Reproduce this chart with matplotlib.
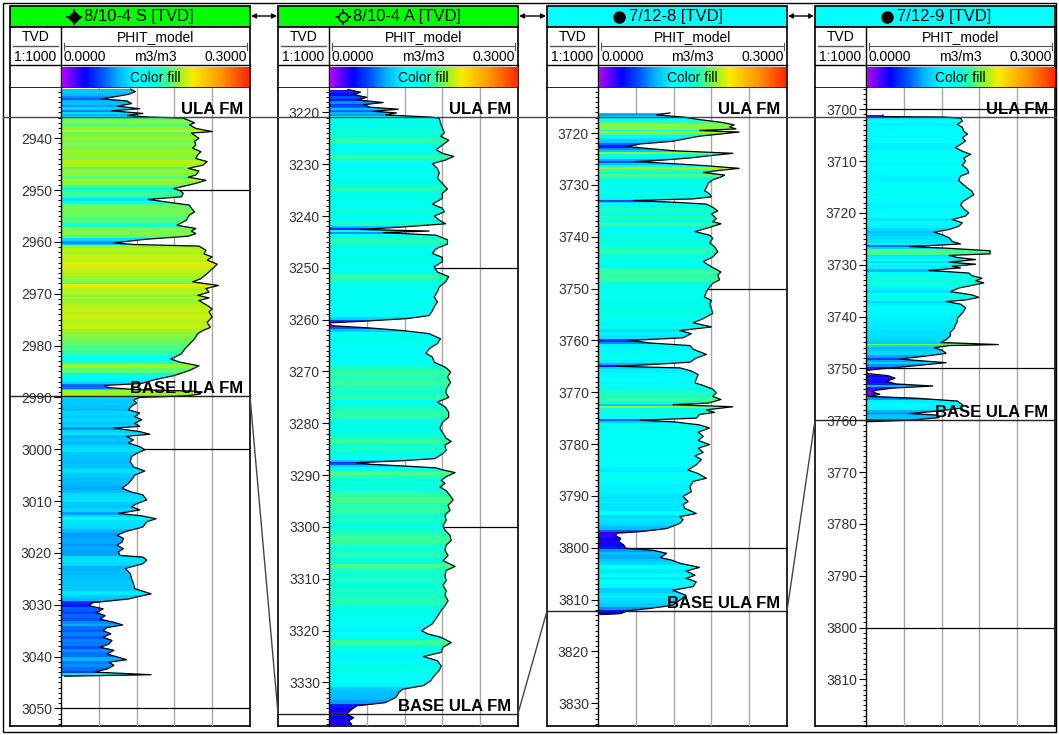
"""Well correlation panel: PHIT_model colour-filled logs flattened on top ULA FM."""

import numpy as np
import matplotlib

matplotlib.use("Agg")
import matplotlib.pyplot as plt  # noqa: E402
from matplotlib.colors import FuncNorm, LinearSegmentedColormap  # noqa: E402
from matplotlib.font_manager import FontProperties  # noqa: E402
from matplotlib.lines import Line2D  # noqa: E402
from matplotlib.patches import ConnectionPatch, FancyArrowPatch, Polygon, Rectangle  # noqa: E402
from matplotlib.textpath import TextPath  # noqa: E402
from matplotlib.ticker import MultipleLocator  # noqa: E402
from matplotlib.transforms import blended_transform_factory  # noqa: E402

plt.rcParams["font.family"] = ["Liberation Sans", "DejaVu Sans"]

# ---------------------------------------------------------------- data
well_names = ["8/10-4 S [TVD]", "8/10-4 A [TVD]", "7/12-8 [TVD]", "7/12-9 [TVD]"]
header_colors = ["#00ff00", "#00ff00", "#00ffff", "#00ffff"]
well_symbols = ["oil", "open", "dot", "dot"]
ula_top = [2935.9, 3220.9, 3716.9, 3701.5]
base_ula = [2989.8, 3336.0, 3812.2, 3760.0]

depth_1 = [
    2930.5, 2931.0, 2931.5, 2932.0, 2932.4, 2932.8, 2933.3, 2933.8, 2934.3, 2934.7,
    2935.2, 2935.6, 2935.9, 2936.1, 2937.0, 2937.4, 2938.1, 2938.7, 2939.0, 2940.0,
    2940.6, 2941.3, 2941.9, 2942.6, 2943.2, 2943.9, 2944.5, 2945.2, 2945.8, 2946.3,
    2947.1, 2947.5, 2948.1, 2948.7, 2949.2, 2949.7, 2950.1, 2950.6, 2951.3, 2951.8,
    2952.3, 2952.9, 2953.5, 2954.2, 2954.8, 2955.8, 2956.8, 2957.4, 2957.9, 2958.4,
    2958.9, 2959.5, 2960.2, 2960.5, 2960.8, 2961.6, 2962.3, 2962.9, 2963.5, 2964.3,
    2965.2, 2966.1, 2967.1, 2967.7, 2968.4, 2969.0, 2969.7, 2970.3, 2970.8, 2971.3,
    2972.1, 2972.9, 2973.5, 2974.5, 2975.5, 2976.5, 2977.1, 2977.7, 2978.7, 2979.7,
    2980.6, 2981.6, 2982.6, 2983.2, 2983.9, 2984.8, 2985.8, 2986.6, 2987.3, 2987.7,
    2988.1, 2988.5, 2988.8, 2989.3, 2989.7, 2990.0, 2990.5, 2991.1, 2991.7, 2992.4,
    2993.0, 2993.7, 2994.3, 2995.0, 2995.6, 2995.9, 2996.6, 2997.1, 2997.5, 2998.2,
    2998.8, 2999.5, 3000.1, 3000.8, 3001.4, 3002.4, 3003.4, 3004.2, 3005.0, 3005.9,
    3006.6, 3007.5, 3008.2, 3008.8, 3009.8, 3010.5, 3011.1, 3011.7, 3012.4, 3012.8,
    3013.4, 3014.0, 3015.0, 3015.9, 3016.6, 3017.2, 3017.9, 3018.5, 3019.2, 3019.8,
    3020.5, 3020.8, 3021.4, 3022.1, 3023.0, 3024.0, 3025.0, 3025.9, 3026.9, 3027.9,
    3028.5, 3028.9, 3029.6, 3030.2, 3030.8, 3031.5, 3032.1, 3032.8, 3033.4, 3033.9,
    3034.4, 3035.0, 3035.6, 3036.3, 3036.9, 3037.6, 3038.2, 3038.8, 3039.5, 3040.6,
    3041.1, 3041.7, 3042.4, 3043.0, 3043.5, 3043.8,
]
phit_1 = [
    0.110, 0.118, 0.108, 0.085, 0.065, 0.105, 0.112, 0.090, 0.125, 0.080,
    0.130, 0.105, 0.140, 0.194, 0.212, 0.204, 0.214, 0.240, 0.207, 0.219,
    0.212, 0.214, 0.209, 0.222, 0.217, 0.214, 0.232, 0.225, 0.202, 0.219,
    0.214, 0.202, 0.230, 0.214, 0.197, 0.179, 0.189, 0.194, 0.191, 0.138,
    0.168, 0.204, 0.207, 0.212, 0.204, 0.199, 0.184, 0.214, 0.207, 0.214,
    0.202, 0.133, 0.084, 0.117, 0.219, 0.230, 0.227, 0.240, 0.232, 0.248,
    0.240, 0.232, 0.222, 0.209, 0.250, 0.230, 0.235, 0.217, 0.235, 0.219,
    0.230, 0.240, 0.235, 0.240, 0.232, 0.237, 0.225, 0.217, 0.212, 0.204,
    0.197, 0.191, 0.174, 0.189, 0.219, 0.204, 0.179, 0.148, 0.128, 0.069,
    0.075, 0.120, 0.215, 0.222, 0.200, 0.125, 0.115, 0.120, 0.112, 0.107,
    0.125, 0.117, 0.128, 0.117, 0.125, 0.084, 0.125, 0.141, 0.104, 0.115,
    0.107, 0.125, 0.133, 0.120, 0.112, 0.110, 0.115, 0.133, 0.117, 0.112,
    0.107, 0.097, 0.110, 0.130, 0.136, 0.120, 0.112, 0.125, 0.091, 0.125,
    0.151, 0.136, 0.130, 0.102, 0.089, 0.099, 0.097, 0.089, 0.099, 0.091,
    0.094, 0.130, 0.136, 0.130, 0.102, 0.110, 0.112, 0.115, 0.117, 0.143,
    0.120, 0.107, 0.050, 0.045, 0.067, 0.056, 0.070, 0.062, 0.084, 0.098,
    0.073, 0.067, 0.079, 0.067, 0.081, 0.076, 0.062, 0.084, 0.073, 0.104,
    0.076, 0.084, 0.073, 0.053, 0.143, 0.006,
]

depth_2 = [
    3215.6, 3216.1, 3216.6, 3217.1, 3217.6, 3218.1, 3218.5, 3219.0, 3219.4, 3219.8,
    3220.1, 3220.5, 3220.9, 3221.1, 3222.1, 3223.0, 3224.0, 3224.6, 3225.4, 3226.3,
    3227.2, 3227.9, 3228.5, 3229.2, 3229.9, 3230.8, 3231.7, 3232.7, 3233.7, 3234.8,
    3235.6, 3236.6, 3237.7, 3238.5, 3239.2, 3240.0, 3240.8, 3241.5, 3242.2, 3242.6,
    3242.9, 3243.2, 3243.7, 3244.6, 3245.4, 3246.3, 3247.2, 3248.0, 3248.8, 3249.8,
    3250.8, 3251.7, 3252.7, 3253.7, 3254.6, 3255.6, 3256.6, 3257.5, 3258.3, 3259.2,
    3259.8, 3260.3, 3260.6, 3260.9, 3261.2, 3261.6, 3262.1, 3262.7, 3263.7, 3264.6,
    3265.6, 3266.5, 3267.2, 3268.2, 3269.2, 3270.1, 3271.1, 3272.1, 3273.0, 3274.0,
    3275.0, 3275.9, 3276.9, 3277.9, 3278.8, 3279.8, 3281.0, 3281.9, 3282.9, 3283.5,
    3284.2, 3285.2, 3285.8, 3286.8, 3287.2, 3287.6, 3287.9, 3288.3, 3288.6, 3289.0,
    3289.5, 3290.3, 3291.0, 3291.6, 3292.3, 3293.0, 3293.9, 3294.8, 3295.8, 3296.8,
    3297.7, 3298.7, 3299.7, 3300.6, 3301.6, 3302.6, 3303.5, 3304.5, 3305.5, 3306.5,
    3307.6, 3308.4, 3309.4, 3310.3, 3311.3, 3312.3, 3313.2, 3314.2, 3315.2, 3316.1,
    3317.1, 3318.7, 3320.0, 3320.6, 3321.3, 3322.3, 3323.2, 3324.2, 3325.0, 3325.8,
    3326.8, 3327.7, 3328.7, 3329.7, 3330.6, 3331.3, 3331.9, 3332.9, 3333.9, 3334.5,
    3335.2, 3336.1, 3336.8, 3337.4, 3338.1, 3338.7,
]
phit_2 = [
    0.030, 0.050, 0.040, 0.060, 0.045, 0.086, 0.055, 0.065, 0.110, 0.070,
    0.107, 0.090, 0.160, 0.175, 0.177, 0.180, 0.183, 0.177, 0.190, 0.180,
    0.170, 0.180, 0.198, 0.185, 0.164, 0.172, 0.175, 0.172, 0.180, 0.188,
    0.180, 0.180, 0.164, 0.180, 0.183, 0.167, 0.175, 0.185, 0.107, 0.050,
    0.159, 0.086, 0.170, 0.188, 0.188, 0.170, 0.164, 0.180, 0.180, 0.167,
    0.172, 0.190, 0.185, 0.175, 0.172, 0.167, 0.172, 0.167, 0.164, 0.159,
    0.123, 0.055, 0.003, 0.000, 0.008, 0.065, 0.117, 0.159, 0.177, 0.172,
    0.159, 0.154, 0.164, 0.167, 0.185, 0.193, 0.188, 0.193, 0.188, 0.185,
    0.190, 0.172, 0.185, 0.190, 0.190, 0.180, 0.176, 0.181, 0.186, 0.194,
    0.184, 0.186, 0.181, 0.168, 0.118, 0.043, 0.065, 0.128, 0.170, 0.181,
    0.200, 0.186, 0.178, 0.184, 0.176, 0.186, 0.192, 0.197, 0.189, 0.192,
    0.184, 0.186, 0.181, 0.184, 0.192, 0.194, 0.186, 0.184, 0.189, 0.181,
    0.200, 0.186, 0.184, 0.186, 0.181, 0.186, 0.184, 0.189, 0.184, 0.178,
    0.173, 0.164, 0.147, 0.156, 0.178, 0.194, 0.181, 0.178, 0.150, 0.172,
    0.178, 0.175, 0.167, 0.161, 0.150, 0.117, 0.111, 0.106, 0.089, 0.044,
    0.036, 0.028, 0.039, 0.031, 0.036, 0.033,
]

depth_3 = [
    3716.1, 3716.5, 3716.9, 3717.4, 3717.9, 3718.4, 3718.8, 3719.2, 3719.5, 3719.8,
    3720.2, 3720.6, 3721.2, 3721.6, 3722.1, 3722.6, 3723.0, 3723.4, 3723.9, 3724.3,
    3724.8, 3725.3, 3725.5, 3725.9, 3726.3, 3726.8, 3727.2, 3727.6, 3728.1, 3728.5,
    3729.0, 3729.7, 3730.5, 3731.1, 3731.7, 3732.3, 3732.7, 3733.0, 3733.4, 3733.7,
    3734.3, 3735.0, 3735.6, 3736.5, 3737.1, 3737.5, 3738.2, 3739.0, 3739.7, 3740.3,
    3741.2, 3741.9, 3742.9, 3743.9, 3744.8, 3745.8, 3746.8, 3747.4, 3748.3, 3749.0,
    3749.7, 3750.6, 3751.6, 3752.3, 3753.0, 3753.9, 3754.8, 3755.8, 3756.6, 3757.4,
    3758.1, 3758.7, 3759.5, 3760.0, 3760.5, 3761.0, 3761.7, 3762.7, 3763.4, 3764.2,
    3764.6, 3765.0, 3765.3, 3765.9, 3766.6, 3767.4, 3768.2, 3768.7, 3769.4, 3770.1,
    3770.8, 3771.4, 3772.1, 3772.4, 3772.8, 3773.4, 3773.9, 3774.3, 3775.0, 3775.4,
    3775.7, 3776.3, 3776.9, 3777.7, 3778.5, 3779.3, 3780.1, 3780.8, 3781.6, 3782.3,
    3783.0, 3784.0, 3785.0, 3785.7, 3786.6, 3787.2, 3788.2, 3789.2, 3790.1, 3791.1,
    3791.7, 3792.4, 3793.4, 3794.0, 3794.6, 3795.3, 3796.3, 3796.9, 3797.2, 3797.7,
    3798.2, 3798.8, 3799.5, 3800.1, 3800.5, 3801.1, 3801.9, 3802.4, 3803.0, 3803.8,
    3804.5, 3805.3, 3805.9, 3806.6, 3807.5, 3808.2, 3809.2, 3810.1, 3811.1, 3811.7,
    3812.2, 3812.7, 3812.9,
]
phit_3 = [
    0.114, 0.093, 0.135, 0.161, 0.195, 0.216, 0.209, 0.219, 0.161, 0.224,
    0.193, 0.161, 0.135, 0.117, 0.067, 0.046, 0.083, 0.119, 0.214, 0.182,
    0.146, 0.093, 0.059, 0.119, 0.172, 0.224, 0.193, 0.167, 0.201, 0.195,
    0.182, 0.175, 0.172, 0.169, 0.177, 0.180, 0.151, 0.057, 0.130, 0.172,
    0.182, 0.190, 0.180, 0.188, 0.182, 0.195, 0.177, 0.154, 0.177, 0.182,
    0.177, 0.185, 0.190, 0.182, 0.167, 0.180, 0.195, 0.190, 0.193, 0.182,
    0.177, 0.172, 0.169, 0.180, 0.177, 0.180, 0.182, 0.167, 0.151, 0.180,
    0.130, 0.148, 0.135, 0.051, 0.083, 0.146, 0.151, 0.172, 0.156, 0.146,
    0.093, 0.030, 0.130, 0.148, 0.159, 0.156, 0.154, 0.167, 0.182, 0.188,
    0.182, 0.195, 0.175, 0.119, 0.214, 0.172, 0.185, 0.161, 0.156, 0.067,
    0.119, 0.161, 0.177, 0.159, 0.167, 0.159, 0.177, 0.159, 0.167, 0.154,
    0.164, 0.156, 0.143, 0.159, 0.172, 0.151, 0.146, 0.148, 0.135, 0.143,
    0.135, 0.138, 0.156, 0.130, 0.135, 0.130, 0.109, 0.067, 0.030, 0.028,
    0.036, 0.033, 0.041, 0.044, 0.088, 0.109, 0.099, 0.117, 0.130, 0.161,
    0.140, 0.154, 0.140, 0.156, 0.151, 0.119, 0.140, 0.130, 0.119, 0.083,
    0.046, 0.036, 0.005,
]

depth_4 = [
    3701.1, 3701.4, 3701.5, 3701.7, 3702.3, 3702.9, 3703.5, 3704.2, 3704.8, 3705.5,
    3706.1, 3706.8, 3707.4, 3708.1, 3708.7, 3709.4, 3710.0, 3710.8, 3711.6, 3712.3,
    3712.9, 3713.7, 3714.4, 3715.2, 3715.8, 3716.5, 3717.1, 3717.7, 3718.4, 3719.2,
    3720.0, 3720.6, 3721.3, 3721.9, 3722.6, 3723.2, 3723.7, 3724.2, 3724.8, 3725.5,
    3726.0, 3726.5, 3726.8, 3727.3, 3727.9, 3728.2, 3728.6, 3729.0, 3729.5, 3729.9,
    3730.3, 3730.6, 3731.1, 3731.6, 3732.1, 3732.6, 3733.1, 3733.5, 3734.0, 3734.5,
    3735.2, 3735.8, 3736.3, 3736.8, 3737.1, 3737.6, 3738.3, 3739.0, 3739.7, 3740.3,
    3741.0, 3741.6, 3742.3, 3743.0, 3743.7, 3744.5, 3745.0, 3745.4, 3745.6, 3746.0,
    3746.5, 3747.1, 3747.7, 3748.2, 3748.6, 3748.9, 3749.4, 3749.9, 3750.1, 3750.4,
    3751.0, 3751.4, 3751.9, 3752.5, 3753.0, 3753.4, 3753.8, 3754.2, 3754.5, 3755.0,
    3755.4, 3755.8, 3756.3, 3757.0, 3757.7, 3758.4, 3758.7, 3759.0, 3759.5, 3760.0,
    3760.3,
]
phit_4 = [
    0.027, 0.027, 0.124, 0.150, 0.153, 0.145, 0.153, 0.155, 0.161, 0.153,
    0.158, 0.150, 0.142, 0.153, 0.166, 0.155, 0.158, 0.153, 0.161, 0.163,
    0.150, 0.147, 0.153, 0.161, 0.168, 0.171, 0.163, 0.155, 0.150, 0.155,
    0.163, 0.158, 0.137, 0.153, 0.147, 0.132, 0.108, 0.121, 0.132, 0.137,
    0.150, 0.069, 0.127, 0.197, 0.197, 0.132, 0.145, 0.174, 0.132, 0.174,
    0.137, 0.150, 0.100, 0.163, 0.168, 0.184, 0.174, 0.187, 0.168, 0.147,
    0.134, 0.168, 0.179, 0.158, 0.127, 0.150, 0.158, 0.155, 0.150, 0.145,
    0.145, 0.142, 0.140, 0.134, 0.134, 0.127, 0.119, 0.210, 0.132, 0.108,
    0.121, 0.127, 0.090, 0.053, 0.095, 0.127, 0.085, 0.043, 0.022, 0.001,
    0.002, 0.035, 0.046, 0.032, 0.048, 0.106, 0.043, 0.017, 0.009, 0.022,
    0.004, 0.085, 0.145, 0.153, 0.150, 0.100, 0.069, 0.111, 0.116, 0.069,
    0.001,
]

depths = [depth_1, depth_2, depth_3, depth_4]
phits = [phit_1, phit_2, phit_3, phit_4]

# ---------------------------------------------------------------- layout (pixels)
W, H = 1059, 735
BOX_X = [10, 278, 547, 815]
BOX_W = 240
TVD_W = 51
Y_TITLE, Y_BODY, Y_ROW, Y_DATA, Y_BOTTOM = 6, 27, 65, 88, 726
ABOVE_DATUM, BELOW_DATUM = 5.6, 117.5
PHIT_MAX = 0.3

fill_cmap = LinearSegmentedColormap.from_list(
    "phit_fill",
    [
        (0.00, "#b000ff"), (0.12, "#0000ff"), (0.22, "#005aff"), (0.30, "#00b4ff"),
        (0.40, "#00ffff"), (0.49, "#00ffe8"), (0.56, "#3cff96"), (0.63, "#a0f51e"),
        (0.70, "#fceb00"), (0.85, "#ff9600"), (1.00, "#ff2800"),
    ],
)
# non-linear colour scale of the fill (porosity -> position on the colour bar)
fill_breaks = [0.0, 0.03, 0.06, 0.09, 0.115, 0.138, 0.156, 0.18, 0.195, 0.21, 0.228, 0.252, 0.30]
fill_levels = [0.0, 0.09, 0.21, 0.28, 0.325, 0.37, 0.40, 0.49, 0.56, 0.60, 0.64, 0.68, 1.0]
fill_norm = FuncNorm(
    (lambda v: np.interp(v, fill_breaks, fill_levels),
     lambda f: np.interp(f, fill_levels, fill_breaks)),
    vmin=0.0, vmax=PHIT_MAX,
)


def fig_rect(x0, y0, x1, y1):
    """Pixel box (top-left origin) to a figure-fraction rectangle."""
    return [x0 / W, 1 - y1 / H, (x1 - x0) / W, (y1 - y0) / H]


def text_width_px(text, size):
    """Width in pixels of a string drawn in the header font."""
    path = TextPath((0, 0), text, prop=FontProperties(family="Liberation Sans", size=size))
    return path.get_extents().width * 100 / 72


def draw_header(fig, i):
    x0 = BOX_X[i]
    x1 = x0 + BOX_W
    xd = x0 + TVD_W
    hax = fig.add_axes(fig_rect(x0 - 2, 4, x1 + 2, Y_DATA + 1))
    hax.set_xlim(x0 - 2, x1 + 2)
    hax.set_ylim(Y_DATA + 1, 4)
    hax.axis("off")

    hax.add_patch(Rectangle((x0, Y_TITLE), BOX_W, Y_BODY - Y_TITLE,
                            fc=header_colors[i], ec="black", lw=1.2))
    hax.add_patch(Rectangle((x0, Y_BODY), BOX_W, Y_DATA - Y_BODY,
                            fc="white", ec="black", lw=1.2))
    hax.plot([xd, xd], [Y_BODY, Y_DATA], color="black", lw=1)
    hax.plot([x0, x1], [Y_ROW, Y_ROW], color="black", lw=1)

    # title with well symbol
    name = well_names[i]
    cx = (x0 + x1) / 2
    tw = text_width_px(name, 12)
    start = cx - (tw + 17) / 2
    sx, ty = start + 7, 16.5
    hax.text(start + 17, ty, name, ha="left", va="center", fontsize=12)
    kind = well_symbols[i]
    if kind == "oil":
        hax.plot(sx, ty, marker="+", ms=11, mew=1.3, color="black")
        hax.plot(sx, ty, marker="D", ms=6, color="black")
    elif kind == "open":
        hax.plot(sx, ty, marker="+", ms=11, mew=1.3, color="black")
        hax.plot(sx, ty, marker="o", ms=6.5, mfc=header_colors[i], mec="black", mew=1.2)
    else:
        hax.plot(sx, ty, marker="o", ms=8, color="black")

    # TVD cell
    tc = (x0 + xd) / 2
    hax.text(tc, 37, "TVD", ha="center", va="center", fontsize=10)
    hax.plot([x0 + 3, xd - 3], [46, 46], color="#555555", lw=1)
    hax.text(tc, 57, "1:1000", ha="center", va="center", fontsize=10)

    # PHIT cell
    lc = (xd + x1) / 2
    hax.text(lc, 37, "PHIT_model", ha="center", va="center", fontsize=10)
    hax.plot([xd + 3, x1 - 3], [46, 46], color="#555555", lw=0.8)
    for xe in (xd + 3, x1 - 3):
        hax.plot([xe, xe], [43, 50], color="#555555", lw=0.8)
    hax.text(xd + 3, 57, "0.0000", ha="left", va="center", fontsize=10)
    hax.text(lc, 57, "m3/m3", ha="center", va="center", fontsize=10)
    hax.text(x1 - 3, 57, "0.3000", ha="right", va="center", fontsize=10)

    gradient = np.linspace(0, 1, 256)[None, :]
    hax.imshow(gradient, cmap=fill_cmap, aspect="auto",
               extent=(xd + 1, x1 - 1, Y_DATA - 1, Y_ROW + 2), zorder=2)
    hax.text(lc, 77.5, "Color fill", ha="center", va="center", fontsize=10, zorder=3)
    hax.set_xlim(x0 - 2, x1 + 2)
    hax.set_ylim(Y_DATA + 1, 4)


def draw_track(fig, i):
    x0 = BOX_X[i]
    x1 = x0 + BOX_W
    xd = x0 + TVD_W
    top = ula_top[i] - ABOVE_DATUM
    bottom = ula_top[i] + BELOW_DATUM

    cax = fig.add_axes(fig_rect(x0, Y_DATA, x1, Y_BOTTOM))
    cax.set_ylim(bottom, top)
    cax.set_xticks([])
    cax.set_yticks([])
    cax.spines["top"].set_visible(False)
    for side in ("left", "right", "bottom"):
        cax.spines[side].set_linewidth(1.2)

    lax = fig.add_axes(fig_rect(xd, Y_DATA, x1, Y_BOTTOM))
    lax.patch.set_alpha(0)
    lax.set_xlim(0, PHIT_MAX)
    lax.set_ylim(bottom, top)
    for side in ("top", "right", "bottom"):
        lax.spines[side].set_visible(False)
    lax.spines["left"].set_linewidth(1)
    lax.set_xticks([0.06, 0.12, 0.18, 0.24])
    lax.tick_params(axis="x", length=0, labelbottom=False)
    lax.grid(axis="x", color="#a8a8a8", lw=1)
    lax.set_axisbelow(True)
    lax.yaxis.set_major_locator(MultipleLocator(10))
    lax.yaxis.set_minor_locator(MultipleLocator(1))
    lax.tick_params(axis="y", which="major", direction="out", length=5, width=0.8,
                    labelsize=10, pad=1.5, labelcolor="#333333")
    lax.tick_params(axis="y", which="minor", direction="out", length=2.5, width=0.7)

    for d in np.arange(np.ceil(top / 50) * 50, bottom, 50):
        lax.axhline(d, color="black", lw=0.9, zorder=0.9)

    depth = np.asarray(depths[i])
    phit = np.asarray(phits[i])
    edges = np.concatenate([[depth[0]], (depth[1:] + depth[:-1]) / 2, [depth[-1]]])
    mesh = lax.pcolormesh([0, PHIT_MAX], edges, phit[:, None], cmap=fill_cmap,
                          norm=fill_norm, shading="flat", zorder=1)
    verts = np.column_stack([np.r_[0, phit, 0], np.r_[depth[0], depth, depth[-1]]])
    clip = Polygon(verts, closed=True, fc="none", ec="none", transform=lax.transData)
    lax.add_patch(clip)
    mesh.set_clip_path(clip)
    lax.plot(phit, depth, color="black", lw=0.9, zorder=3)

    tb = blended_transform_factory(lax.transAxes, lax.transData)
    lax.text(0.965, ula_top[i], "ULA FM", transform=tb, ha="right", va="bottom",
             fontsize=12, fontweight="bold", zorder=6)
    lax.text(0.965, base_ula[i], "BASE ULA FM", transform=tb, ha="right", va="bottom",
             fontsize=12, fontweight="bold", zorder=6)
    return cax


fig = plt.figure(figsize=(W / 100, H / 100), dpi=100)
overlay = fig.add_axes([0, 0, 1, 1], zorder=-1)
overlay.set_xlim(0, W)
overlay.set_ylim(H, 0)
overlay.axis("off")
overlay.add_patch(Rectangle((3, 3), W - 6, H - 6, fill=False, ec="black", lw=1))

col_axes = []
for i in range(len(well_names)):
    draw_header(fig, i)
    col_axes.append(draw_track(fig, i))

# header link arrows
for i in range(len(well_names) - 1):
    overlay.add_patch(FancyArrowPatch((BOX_X[i] + BOX_W + 1, 16), (BOX_X[i + 1] - 1, 16),
                                      arrowstyle="<|-|>", mutation_scale=7, lw=1,
                                      color="black", shrinkA=0, shrinkB=0))

# flattening datum: top ULA FM, continuous across the panel
datum_tr = blended_transform_factory(fig.transFigure, col_axes[0].transData)
fig.add_artist(Line2D([3 / W, 1 - 3 / W], [ula_top[0], ula_top[0]],
                      transform=datum_tr, color="#444444", lw=1))

# base ULA FM in each well and the correlation lines between wells
for i, cax in enumerate(col_axes):
    tr = blended_transform_factory(cax.transAxes, cax.transData)
    fig.add_artist(Line2D([0, 1], [base_ula[i], base_ula[i]], transform=tr,
                          color="#222222", lw=1))
    if i + 1 < len(col_axes):
        nxt = col_axes[i + 1]
        tr2 = blended_transform_factory(nxt.transAxes, nxt.transData)
        fig.add_artist(ConnectionPatch(xyA=(1, base_ula[i]), coordsA=tr,
                                       xyB=(0, base_ula[i + 1]), coordsB=tr2,
                                       color="#444444", lw=1))

fig.savefig("out.png", dpi=100)
